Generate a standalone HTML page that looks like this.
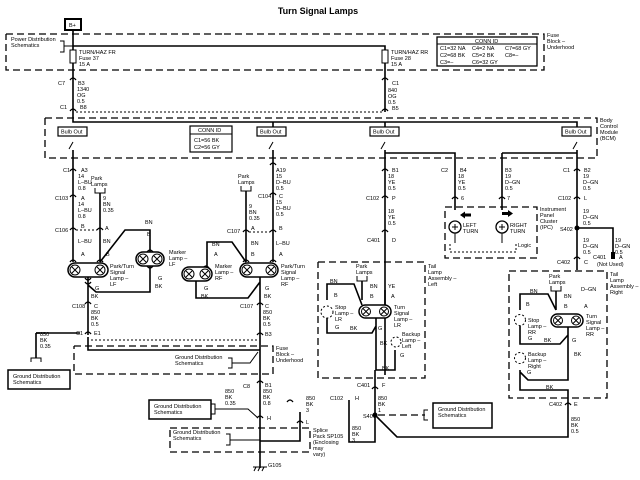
<!DOCTYPE html>
<html><head><meta charset="utf-8"><style>
html,body{margin:0;padding:0;background:#fff;}
svg{display:block;font-family:"Liberation Sans",sans-serif;}
text{font-size:5.5px;fill:#000;}
.w{stroke:#000;stroke-width:1.6;fill:none;}
.t{stroke:#000;stroke-width:1;fill:none;}
.d{stroke:#000;stroke-width:1.3;fill:none;stroke-dasharray:7,4;}
.dt{stroke:#000;stroke-width:1;fill:none;stroke-dasharray:2,2;}
.c{stroke:#000;stroke-width:1.3;fill:none;}
</style></head><body>
<svg width="640" height="480" viewBox="0 0 640 480">
<rect width="640" height="480" fill="#fff"/>
<text x="318" y="14" text-anchor="middle" style="font-size:9px;font-weight:bold">Turn Signal Lamps</text>
<!-- B+ -->
<rect x="65" y="19" width="16" height="11" fill="none" stroke="#000" stroke-width="2"/>
<text x="69" y="27">B+</text>
<!-- fuse block -->
<path class="d" d="M6 34H224M224 34H544V70H6V34"/>
<text x="547" y="37">Fuse</text><text x="547" y="43">Block –</text><text x="547" y="49">Underhood</text>
<text x="11" y="41">Power Distribution</text><text x="11" y="47">Schematics</text>
<path class="t" d="M60 41h4v11h-4"/><path class="t" d="M64 46H73"/>
<path class="w" d="M73 30V112M73 46H385V112"/>
<rect x="70" y="50" width="6" height="13" fill="#fff" stroke="#000"/>
<rect x="382" y="50" width="6" height="13" fill="#fff" stroke="#000"/>
<text x="79" y="54">TURN/HAZ FR</text><text x="79" y="60">Fuse 37</text><text x="79" y="66">15 A</text>
<text x="391" y="54">TURN/HAZ RR</text><text x="391" y="60">Fuse 28</text><text x="391" y="66">15 A</text>
<rect x="437" y="37" width="100" height="29" fill="none" stroke="#000" stroke-width="1.3"/>
<path class="t" d="M437 44H537"/>
<text x="475" y="43">CONN ID</text>
<text x="440" y="50">C1=32 NA</text><text x="472" y="50">C4=2 NA</text><text x="505" y="50">C7=68 GY</text>
<text x="440" y="57">C2=68 BK</text><text x="472" y="57">C5=2 BK</text><text x="505" y="57">C8=–</text>
<text x="440" y="64">C3=–</text><text x="472" y="64">C6=32 GY</text>
<!-- connectors C7 / C1 -->
<path class="c" d="M70 80q3-4 6 0M70 111q3-4 6 0M382 80q3-4 6 0M382 111q3-4 6 0"/>
<text x="58" y="85">C7</text><text x="78" y="85">B3</text><text x="77" y="91">1340</text><text x="77" y="97">OG</text><text x="77" y="103">0.5</text>
<text x="60" y="109">C1</text><text x="80" y="109">B8</text>
<text x="392" y="85">C1</text><text x="388" y="92">840</text><text x="388" y="98">OG</text><text x="388" y="104">0.5</text><text x="392" y="110">B5</text>
<path class="dt" d="M76 112H382"/>
<!-- BCM -->
<path class="d" d="M45 118H597V158H45V118"/>
<text x="600" y="122">Body</text><text x="600" y="128">Control</text><text x="600" y="134">Module</text><text x="600" y="140">(BCM)</text>
<path class="w" d="M73 112V122H577V132"/>
<path class="w" d="M273 122V132M385 122V132"/>
<g fill="#fff" stroke="#000" stroke-width="1.2">
<rect x="58" y="127" width="29" height="9"/><rect x="257" y="127" width="29" height="9"/>
<rect x="370" y="127" width="29" height="9"/><rect x="562" y="127" width="29" height="9"/>
</g>
<text x="61" y="133.5">Bulb Out</text><text x="260" y="133.5">Bulb Out</text><text x="373" y="133.5">Bulb Out</text><text x="565" y="133.5">Bulb Out</text>
<rect x="190" y="126" width="42" height="26" fill="none" stroke="#000" stroke-width="1.2"/>
<path class="t" d="M190 134H232"/>
<text x="198" y="132">CONN ID</text><text x="194" y="142">C1=56 BK</text><text x="194" y="149">C2=56 GY</text>
<path class="t" d="M69 149L73 142M269 149L273 142M381 149L385 142M573 149L577 142"/>
<path class="w" d="M73 150V262M273 150V262M385 150V375M577 150V270"/>
<path class="w" d="M385 153H455V210M502 153H577M502 153V210"/>
<!-- left column labels -->
<path class="c" d="M70 171q3-4 6 0M70 197q3-4 6 0M70 230q3-4 6 0M270 165q3-4 6 0M270 195q3-4 6 0M270 232q3-4 6 0"/>
<text x="63" y="172">C1</text><text x="81" y="172">A3</text><text x="78" y="178">14</text><text x="78" y="184">L–BU</text><text x="78" y="190">0.8</text>
<text x="55" y="200">C103</text><text x="81" y="200">A</text><text x="78" y="206">14</text><text x="78" y="212">L–BU</text><text x="78" y="218">0.8</text>
<text x="55" y="232">C106</text><text x="81" y="228">B</text><text x="78" y="243">L–BU</text><text x="81" y="256">A</text>
<text x="91" y="180">Park</text><text x="91" y="186">Lamps</text>
<path class="t" d="M95 188v5h10v-5M100 193V262"/>
<path class="w" d="M100 193V262"/>
<path class="dt" d="M76 230H97"/>
<path class="c" d="M97 230q3-4 6 0"/>
<text x="103" y="200">9</text><text x="103" y="206">BN</text><text x="103" y="212">0.35</text><text x="105" y="230">A</text><text x="103" y="243">BN</text><text x="106" y="256">B</text>
<path class="w" d="M100 262L125 230H150V252"/>
<text x="145" y="224">BN</text><text x="147" y="236">B</text>
<path class="c" d="M70 262q3-4 6 0M97 262q3-4 6 0M147 252q3-4 6 0M147 266q3 4 6 0M85 278q3 4 6 0M85 282q3 4 6 0"/>
<!-- lamp LF -->
<rect x="68" y="263" width="40" height="14" rx="7" fill="#fff" stroke="#000" stroke-width="1.5"/>
<circle cx="75" cy="270" r="5" fill="none" stroke="#000"/><path class="t" d="M72 267l6 6M78 267l-6 6"/>
<circle cx="100" cy="270" r="5" fill="none" stroke="#000"/><path class="t" d="M97 267l6 6M103 267l-6 6"/>
<text x="110" y="268">Park/Turn</text><text x="110" y="274">Signal</text><text x="110" y="280">Lamp –</text><text x="110" y="286">LF</text>
<rect x="136" y="252" width="28" height="14" rx="7" fill="#fff" stroke="#000" stroke-width="1.5"/>
<circle cx="143" cy="259" r="5" fill="none" stroke="#000"/><path class="t" d="M140 256l6 6M146 256l-6 6"/>
<circle cx="157" cy="259" r="5" fill="none" stroke="#000"/><path class="t" d="M154 256l6 6M160 256l-6 6"/>
<text x="169" y="254">Marker</text><text x="169" y="260">Lamp –</text><text x="169" y="266">LF</text>
<path class="w" d="M88 277V335M150 266V292H96L88 285"/>
<text x="158" y="280">G</text><text x="155" y="288">BK</text><text x="95" y="290">G</text><text x="91" y="298">BK</text>
<path class="c" d="M85 304q3-4 6 0M85 334q3-4 6 0"/>
<text x="72" y="308">C108</text><text x="94" y="308">C</text><text x="91" y="314">850</text><text x="91" y="320">BK</text><text x="91" y="326">0.5</text>
<text x="76" y="335">C1</text><text x="94" y="335">E1</text>
<!-- right front -->
<text x="238" y="178">Park</text><text x="238" y="184">Lamps</text>
<path class="t" d="M241 186v5h10v-5"/>
<path class="w" d="M246 191V262"/>
<text x="276" y="172">A19</text><text x="276" y="178">15</text><text x="276" y="184">D–BU</text><text x="276" y="190">0.5</text>
<text x="258" y="198">C104</text><text x="279" y="198">C</text><text x="276" y="204">15</text><text x="276" y="210">D–BU</text><text x="276" y="216">0.5</text>
<text x="249" y="208">9</text><text x="249" y="214">BN</text><text x="249" y="220">0.35</text>
<text x="227" y="233">C107</text><text x="251" y="230">A</text><text x="279" y="230">B</text>
<path class="c" d="M243 232q3-4 6 0M243 262q3-4 6 0M270 262q3-4 6 0M203 268q3-4 6 0"/>
<path class="dt" d="M249 232H270"/>
<text x="251" y="245">BN</text><text x="276" y="245">L–BU</text><text x="251" y="256">B</text><text x="279" y="256">A</text>
<path class="w" d="M246 262L232 242H207V268"/>
<text x="212" y="246">BN</text><text x="214" y="256">A</text>
<rect x="182" y="267" width="30" height="14" rx="7" fill="#fff" stroke="#000" stroke-width="1.5"/>
<circle cx="189" cy="274" r="5" fill="none" stroke="#000"/><path class="t" d="M186 271l6 6M192 271l-6 6"/>
<circle cx="205" cy="274" r="5" fill="none" stroke="#000"/><path class="t" d="M202 271l6 6M208 271l-6 6"/>
<text x="215" y="268">Marker</text><text x="215" y="274">Lamp –</text><text x="215" y="280">RF</text>
<rect x="240" y="263" width="38" height="14" rx="7" fill="#fff" stroke="#000" stroke-width="1.5"/>
<circle cx="247" cy="270" r="5" fill="none" stroke="#000"/><path class="t" d="M244 267l6 6M250 267l-6 6"/>
<circle cx="271" cy="270" r="5" fill="none" stroke="#000"/><path class="t" d="M268 267l6 6M274 267l-6 6"/>
<text x="281" y="268">Park/Turn</text><text x="281" y="274">Signal</text><text x="281" y="280">Lamp –</text><text x="281" y="286">RF</text>
<path class="w" d="M196 281V298H248L260 282M260 277V418"/>
<text x="204" y="290">G</text><text x="201" y="298">BK</text><text x="265" y="290">G</text><text x="264" y="298">BK</text>
<path class="c" d="M257 305q3-4 6 0M257 335q3-4 6 0M257 383q3-4 6 0M257 418q3-4 6 0"/>
<text x="240" y="308">C107</text><text x="265" y="308">C</text><text x="263" y="314">850</text><text x="263" y="320">BK</text><text x="263" y="326">0.5</text><text x="265" y="336">B3</text>
<!-- left ground -->
<text x="40" y="336">850</text><text x="40" y="342">BK</text><text x="40" y="348">0.35</text>
<path class="w" d="M36 333V358M36 333H40"/><path class="t" d="M31 362v-4h10v4"/>
<rect x="8" y="370" width="62" height="19" fill="none" stroke="#000" stroke-width="1.5"/>
<text x="13" y="378">Ground Distribution</text><text x="13" y="384">Schematics</text>
<path class="w" d="M36 333L80 333"/>
<path class="dt" d="M91 340H257"/>
<path class="w" d="M88 337V350H260"/>
<path class="d" d="M74 346H273V374H74V346"/>
<text x="276" y="350">Fuse</text><text x="276" y="356">Block –</text><text x="276" y="362">Underhood</text>
<text x="175" y="359">Ground Distribution</text><text x="175" y="365">Schematics</text>
<path class="t" d="M228 358h4v10h-4M232 363H250L258 352"/>
<text x="243" y="388">C8</text><text x="265" y="387">B1</text><text x="263" y="393">850</text><text x="263" y="399">BK</text><text x="263" y="405">0.8</text>
<text x="225" y="393">850</text><text x="225" y="399">BK</text><text x="225" y="405">0.35</text>
<rect x="149" y="400" width="62" height="19" fill="none" stroke="#000" stroke-width="1.5"/>
<text x="154" y="408">Ground Distribution</text><text x="154" y="414">Schematics</text>
<path class="t" d="M211 404h4v10h-4M215 409H248L258 418"/>
<text x="267" y="420">H</text>
<path class="w" d="M260 418V468M260 441H300V412"/>
<path class="c" d="M297 423q3-4 6 0"/>
<text x="306" y="400">850</text><text x="306" y="406">BK</text><text x="306" y="412">3</text><text x="306" y="424">L</text>
<path class="d" d="M170 428H310V452H170V428"/>
<text x="173" y="434">Ground Distribution</text><text x="173" y="440">Schematics</text>
<path class="t" d="M226 434h4v11h-4M230 440H260"/>
<text x="313" y="432">Splice</text><text x="313" y="438">Pack SP105</text><text x="313" y="444">(Enclosing</text><text x="313" y="450">may</text><text x="313" y="456">vary)</text>
<path class="t" d="M253 467H267M254 471l2-4M258 471l2-4M262 471l2-4"/>
<text x="268" y="467">G105</text>
<!-- center left tail -->
<path class="c" d="M382 171q3-4 6 0M382 198q3-4 6 0M382 232q3-4 6 0"/>
<text x="392" y="172">B1</text><text x="388" y="178">18</text><text x="388" y="184">YE</text><text x="388" y="190">0.5</text>
<text x="366" y="200">C102</text><text x="392" y="200">P</text><text x="388" y="213">18</text><text x="388" y="219">YE</text><text x="388" y="225">0.5</text>
<text x="367" y="242">C401</text><text x="392" y="242">D</text>
<path class="d" d="M318 262H425V378H318V262"/>
<text x="428" y="268">Tail</text><text x="428" y="274">Lamp</text><text x="428" y="280">Assembly –</text><text x="428" y="286">Left</text>
<text x="356" y="268">Park</text><text x="356" y="274">Lamps</text>
<path class="t" d="M357 276v5h10v-5"/><path class="w" d="M362 281V300M385 290V308M327 300V284H354L362 305"/>
<text x="370" y="288">BN</text><text x="370" y="298">B</text><text x="388" y="288">YE</text><text x="391" y="298">A</text><text x="330" y="283">BN</text><text x="334" y="297">B</text>
<circle cx="327" cy="312" r="6" fill="none" stroke="#000" stroke-dasharray="2,2"/>
<text x="335" y="309">Stop</text><text x="335" y="315">Lamp –</text><text x="335" y="321">LR</text>
<rect x="359" y="305" width="32" height="13" rx="6.5" fill="#fff" stroke="#000" stroke-width="1.5"/>
<circle cx="366" cy="311.5" r="4.5" fill="none" stroke="#000"/><path class="t" d="M363 308.5l6 6M369 308.5l-6 6"/>
<circle cx="384" cy="311.5" r="4.5" fill="none" stroke="#000"/><path class="t" d="M381 308.5l6 6M387 308.5l-6 6"/>
<text x="394" y="309">Turn</text><text x="394" y="315">Signal</text><text x="394" y="321">Lamp –</text><text x="394" y="327">LR</text>
<path class="w" d="M327 318V333H372L376 326M376 318V370H395L395 350M375 370V410"/>
<text x="335" y="329">G</text><text x="350" y="330">BK</text><text x="378" y="330">G</text><text x="380" y="345">BK</text><text x="382" y="370">BK</text>
<circle cx="396" cy="342" r="5" fill="none" stroke="#000" stroke-dasharray="2,2"/>
<text x="402" y="336">Backup</text><text x="402" y="342">Lamp –</text><text x="402" y="348">Left</text><text x="400" y="357">G</text>
<path class="c" d="M372 389q3-4 6 0M287 402q3-4 6 0"/>
<text x="357" y="387">C401</text><text x="382" y="387">F</text>
<text x="378" y="400">850</text><text x="378" y="406">BK</text><text x="378" y="412">1</text>
<text x="363" y="418">S401</text>
<text x="330" y="400">C102</text><text x="355" y="400">H</text>
<path class="w" d="M349 400V442H375V410"/>
<text x="352" y="430">850</text><text x="352" y="436">BK</text><text x="352" y="442">3</text>
<circle cx="375" cy="415" r="2.5" fill="#000"/>
<path class="w" d="M375 415L397 437H568V404"/>
<path class="d" d="M378 415H425"/>
<path class="t" d="M428 410h-4v10h4"/>
<rect x="433" y="403" width="59" height="25" fill="none" stroke="#000" stroke-width="1.5"/>
<text x="438" y="411">Ground Distribution</text><text x="438" y="417">Schematics</text>
<!-- IPC -->
<path class="c" d="M452 199q3-4 6 0M499 199q3-4 6 0M574 171q3-4 6 0M574 199q3-4 6 0"/>
<text x="441" y="172">C2</text><text x="460" y="172">B4</text><text x="458" y="178">18</text><text x="458" y="184">YE</text><text x="458" y="190">0.5</text><text x="461" y="200">6</text>
<text x="505" y="172">B3</text><text x="505" y="178">19</text><text x="505" y="184">D–GN</text><text x="505" y="190">0.5</text><text x="507" y="200">7</text>
<path class="d" d="M445 207H537V258H445V207"/>
<text x="540" y="211">Instrument</text><text x="540" y="217">Panel</text><text x="540" y="223">Cluster</text><text x="540" y="229">(IPC)</text>
<circle cx="455" cy="227" r="6" fill="#fff" stroke="#000" stroke-width="1.3"/>
<circle cx="502" cy="227" r="6" fill="#fff" stroke="#000" stroke-width="1.3"/>
<path class="t" d="M452 227h6M455 224v6M499 227h6M502 224v6M455 233V243M502 233V243"/>
<path d="M460 215l5-3.5v2h6v3h-6v2z" fill="#000"/><path d="M502 212h6v-2l5 3.5-5 3.5v-2h-6z" fill="#000"/>
<text x="463" y="227">LEFT</text><text x="463" y="233">TURN</text><text x="510" y="227">RIGHT</text><text x="510" y="233">TURN</text>
<path class="dt" d="M450 244V252H516V244"/><text x="518" y="247">Logic</text>
<!-- right column -->
<text x="563" y="172">C1</text><text x="584" y="172">B2</text><text x="583" y="178">19</text><text x="583" y="184">D–GN</text><text x="583" y="190">0.5</text>
<text x="558" y="200">C102</text><text x="584" y="200">L</text><text x="583" y="213">19</text><text x="583" y="219">D–GN</text><text x="583" y="225">0.5</text>
<circle cx="577" cy="228" r="2.5" fill="#000"/><text x="560" y="231">S402</text>
<path class="w" d="M577 228H613V257"/><rect x="611" y="252" width="4" height="7" fill="#000"/>
<text x="583" y="242">19</text><text x="583" y="248">D–GN</text><text x="583" y="254">0.5</text>
<text x="615" y="242">19</text><text x="615" y="248">D–GN</text><text x="615" y="254">0.5</text>
<text x="593" y="259">C401</text><text x="619" y="259">A</text><text x="597" y="266">(Not Used)</text>
<path class="c" d="M574 259q3-4 6 0M565 405q3-4 6 0"/>
<text x="557" y="264">C402</text><text x="584" y="264">C</text>
<path class="d" d="M509 271H607V398H509V271"/>
<text x="610" y="276">Tail</text><text x="610" y="282">Lamp</text><text x="610" y="288">Assembly –</text><text x="610" y="294">Right</text>
<text x="549" y="278">Park</text><text x="549" y="284">Lamps</text>
<path class="t" d="M551 286v5h10v-5"/><path class="w" d="M556 291V310M520 310V294H548L556 310"/>
<text x="581" y="291">D–GN</text><text x="564" y="298">BN</text><text x="564" y="308">B</text><text x="584" y="308">A</text><text x="530" y="293">BN</text><text x="526" y="306">B</text>
<circle cx="520" cy="320" r="5.5" fill="none" stroke="#000" stroke-dasharray="2,2"/>
<text x="528" y="322">Stop</text><text x="528" y="328">Lamp –</text><text x="528" y="334">RR</text>
<rect x="551" y="314" width="32" height="13" rx="6.5" fill="#fff" stroke="#000" stroke-width="1.5"/>
<circle cx="558" cy="320.5" r="4.5" fill="none" stroke="#000"/><path class="t" d="M555 317.5l6 6M561 317.5l-6 6"/>
<circle cx="576" cy="320.5" r="4.5" fill="none" stroke="#000"/><path class="t" d="M573 317.5l6 6M579 317.5l-6 6"/>
<text x="586" y="318">Turn</text><text x="586" y="324">Signal</text><text x="586" y="330">Lamp –</text><text x="586" y="336">RR</text>
<path class="w" d="M520 326V344H560L568 335M568 327V380H528L520 372M520 370V390H568V404"/>
<text x="528" y="340">G</text><text x="544" y="342">BK</text><text x="572" y="342">G</text><text x="574" y="356">BK</text><text x="546" y="389">BK</text>
<circle cx="520" cy="358" r="5.5" fill="none" stroke="#000" stroke-dasharray="2,2"/>
<text x="528" y="356">Backup</text><text x="528" y="362">Lamp –</text><text x="528" y="368">Right</text><text x="527" y="374">G</text>
<text x="549" y="406">C402</text><text x="574" y="406">E</text>
<text x="571" y="421">850</text><text x="571" y="427">BK</text><text x="571" y="433">0.5</text>
</svg>
</body></html>
